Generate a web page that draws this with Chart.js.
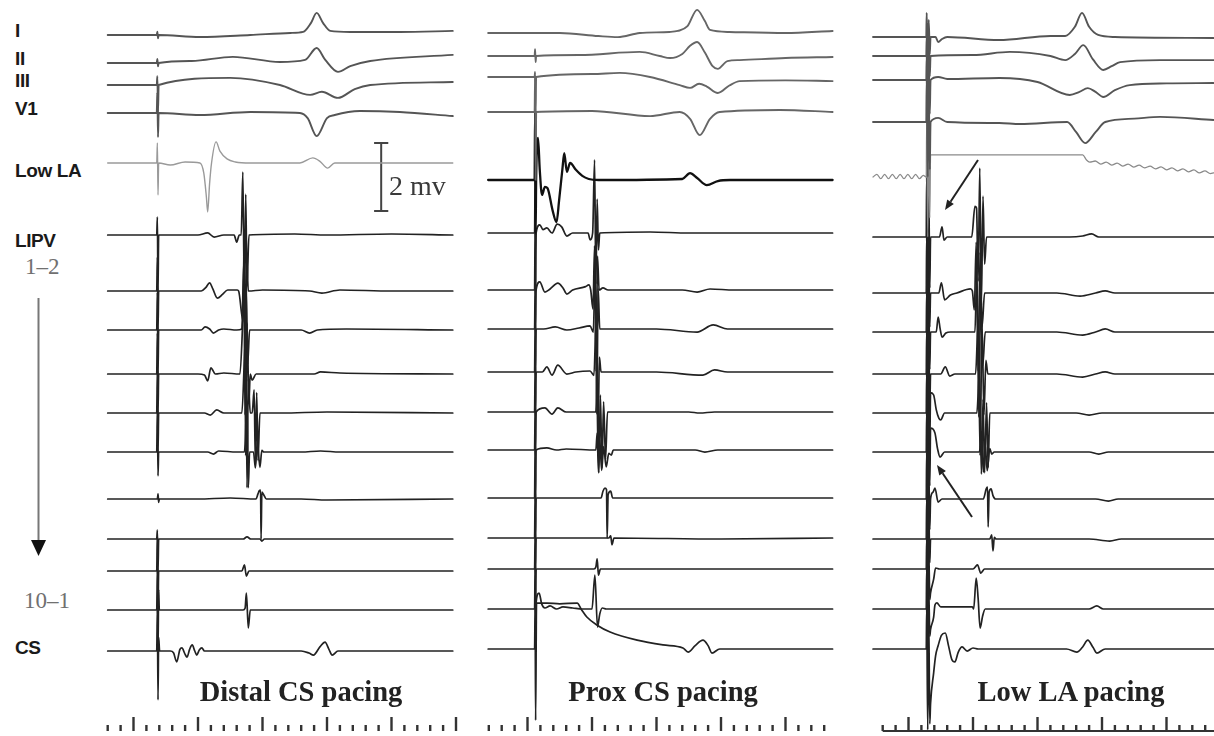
<!DOCTYPE html>
<html>
<head>
<meta charset="utf-8">
<script src="https://cdn.jsdelivr.net/npm/chart.js@4.4.1/dist/chart.umd.min.js"></script>
<style>
  html, body { margin: 0; padding: 0; background: #fff; }
  #fig { position: relative; width: 1214px; height: 736px; overflow: hidden; background: #fff; }
  canvas { position: absolute; top: 0; }
  .lab { position: absolute; transform: translateY(-50%); white-space: nowrap; line-height: 1; }
  .lead { font-family: "Liberation Sans", Arial, sans-serif; font-weight: bold; font-size: 19px; color: #1a1a1a; letter-spacing: -0.4px; }
  .num { font-family: "Liberation Serif", "Times New Roman", serif; font-size: 23px; color: #707070; }
  .title { position: absolute; transform: translate(-50%, -50%); white-space: nowrap; line-height: 1;
           font-family: "Liberation Serif", "Times New Roman", serif; font-weight: bold; font-size: 28.5px; color: #222; }
</style>
</head>
<body>
<div id="fig">
  <canvas id="c0" width="362" height="736" style="left:100px"></canvas>
  <canvas id="c1" width="370" height="736" style="left:470px"></canvas>
  <canvas id="c2" width="352" height="736" style="left:862px"></canvas>

  <div class="lab lead" style="left:15px;top:30px">I</div>
  <div class="lab lead" style="left:15px;top:58px">II</div>
  <div class="lab lead" style="left:15px;top:80px">III</div>
  <div class="lab lead" style="left:15px;top:108px">V1</div>
  <div class="lab lead" style="left:15px;top:170px">Low LA</div>
  <div class="lab lead" style="left:15px;top:240px">LIPV</div>
  <div class="lab num" style="left:25px;top:266px">1–2</div>
  <div class="lab num" style="left:24px;top:600px">10–1</div>
  <div class="lab lead" style="left:15px;top:647px">CS</div>
  <div class="lab num" style="left:389px;top:186px;font-size:28px;color:#3a3a3a">2 mv</div>

  <div class="title" style="left:301px;top:692px">Distal CS pacing</div>
  <div class="title" style="left:663px;top:692px">Prox CS pacing</div>
  <div class="title" style="left:1071px;top:692px">Low LA pacing</div>

  <svg width="1214" height="736" style="position:absolute;left:0;top:0">
    <line x1="38.5" y1="298" x2="38.5" y2="542" stroke="#777" stroke-width="2"/>
    <polygon points="31,540 46,540 38.5,556" fill="#111"/>
    <line x1="978" y1="160" x2="950.5" y2="201.7" stroke="#222" stroke-width="2"/>
    <polygon points="945,210 953.8,203.9 947.2,199.5" fill="#222"/>
    <line x1="972" y1="517" x2="942.6" y2="473.3" stroke="#222" stroke-width="2"/>
    <polygon points="937,465 945.9,471.1 939.3,475.5" fill="#222"/>
  </svg>
</div>

<script>
// ---- data: [time ms, deflection mV] per channel ----
const leadNames = ['I', 'II', 'III', 'V1', 'Low LA', 'LIPV 1-2', 'LIPV 2-3', 'LIPV 3-4', 'LIPV 4-5',
  'LIPV 5-6', 'LIPV 6-7', 'LIPV 7-8', 'LIPV 8-9', 'LIPV 9-10', 'LIPV 10-1', 'CS'];
const panelTitles = ['Distal CS pacing', 'Prox CS pacing', 'Low LA pacing'];
const scaleBarMv = 2;

// Distal CS pacing
const dcs_I = [[60,0],[136,0],[137,0.1],[138,-0.1],[139,0],[203,-0.06],[281,0],[343,0.06],[363,0.09],[375,0.35],[384,0.65],[394,0.35],[405,0.12],[436,0.09],[513,0.09],[595,0.12]];
const dcs_II = [[60,0],[136,0],[137,0.12],[138,-0.1],[139,0],[190,0.06],[254,0.18],[327,0.03],[366,0.09],[384,0.44],[397,0.1],[417,-0.26],[436,-0.09],[467,0.06],[595,0.24]];
const dcs_III = [[60,0],[136,0],[137,0.26],[138,-0.8],[139,0],[250,0.21],[327,0],[374,-0.29],[392,-0.2],[417,-0.38],[443,-0.12],[467,0],[595,0.09]];
const dcs_V1 = [[60,0],[136,0],[137,0.6],[138,-0.71],[139,0],[203,-0.06],[281,0.03],[358,0],[370,-0.15],[384,-0.68],[400,-0.15],[412,-0.06],[451,0.06],[513,0.03],[595,-0.09]];
const dcs_LowLA = [[60,0],[136,0],[137,0.59],[138,-0.94],[139,0],[157,-0.06],[180,0.03],[203,0],[209,-0.3],[213,-1.0],[215,-1.44],[218,-0.6],[221,0],[228,0.62],[234,0.35],[245,0.12],[258,0.03],[281,0],[358,0],[378,0.15],[389,0.05],[401,-0.15],[412,0],[595,0]];
const dcs_L1 = [[60,0],[136,0],[137,0.53],[138,-1.65],[139,0],[200,0],[215,0.06],[225,-0.06],[240,0],[256,0],[260,-0.21],[264,0],[267,0],[269.5,1.85],[272,-2.0],[274,1.2],[276,-1.5],[279,0],[350,0.03],[400,0],[500,0.03],[595,0]];
const dcs_L2 = [[60,0],[136,0],[137,1.0],[138,-1.15],[139,0],[205,0],[212,0.1],[218,0.24],[223,0.06],[230,-0.21],[238,-0.1],[246,0.03],[261,0.03],[263,0],[270,-0.9],[271.5,1.8],[273.5,-2.3],[275.5,1.0],[278,0],[300,0.03],[373,0],[392,-0.06],[420,0.03],[500,0],[595,0]];
const dcs_L3 = [[60,0],[136,0],[137,1.1],[138,-1.3],[139,0],[205,0],[211,0.09],[218,0.03],[224,-0.09],[232,0],[240,0.03],[260,0],[268,0.03],[271,2.0],[273,-2.5],[275,1.2],[277,-1.0],[280,0],[360,0],[373,-0.09],[385,0],[430,0.03],[595,0]];
const dcs_L4 = [[60,0],[136,0],[137,1.2],[138,-1.15],[139,0],[200,0],[210,-0.03],[215,-0.2],[220,0.18],[227,0],[240,0.03],[265,0],[272,2.3],[274,-2.4],[276,1.5],[279,-0.8],[281,0],[284,-0.18],[290,0],[380,0],[390,0.06],[420,0.03],[595,0]];
const dcs_L5 = [[60,0],[136,0],[137,1.2],[138,-1.15],[139,0],[210,0],[219,-0.06],[229,0.09],[240,0],[268,0],[274,2.3],[276,-2.2],[278,1.0],[281,0],[284,0],[287,0.68],[289,-1.5],[291,0.6],[293,-1.4],[296,0],[330,0],[400,0.03],[595,0]];
const dcs_L6 = [[60,0],[136,0],[137,1.2],[138,-0.7],[139,0],[215,0],[224,-0.06],[232,0.03],[260,0],[272,0],[276,1.5],[278,-1.05],[280,0],[286,0],[289,-0.47],[292,0.3],[296,-0.45],[299,0.05],[302,0],[360,0],[390,0.03],[420,0],[595,0]];
const dcs_L7 = [[60,0],[137,0],[138,0.15],[139,-0.1],[140,0],[200,0],[250,0.03],[290,0],[293,0.15],[295,0.24],[297,0.26],[297.8,-1.18],[299,0.2],[302,0.12],[306,0],[360,0],[400,-0.03],[595,0]];
const dcs_L8 = [[60,0],[136,0],[137,0.26],[138,-0.94],[139,0],[270,0],[276,0.06],[282,0],[296,0],[299,-0.06],[303,0],[400,0],[595,0]];
const dcs_L9 = [[60,0],[136,0],[137,1.0],[138,-1.1],[139,0],[200,0],[268,0],[272,0.18],[275,-0.15],[279,0],[400,0],[595,0]];
const dcs_L10 = [[60,0],[136,0],[137,1.15],[138,-1.2],[139,0.6],[140,0],[200,0],[270,0],[273,0.05],[275,0.5],[278,-0.53],[281,0],[400,0],[595,0]];
const dcs_CS = [[60,0],[136,0],[137,1.2],[138,-1.44],[139,0.4],[140.5,0],[157,0],[162,-0.05],[167,-0.32],[172,0.05],[175,0.09],[180,-0.1],[183,-0.18],[187,0.05],[191,0.18],[195,0],[198,-0.12],[202,0.03],[206,0.09],[210,0],[360,0],[372,-0.06],[379,-0.12],[389,0.12],[397,0.26],[403,0.05],[408,-0.12],[417,0],[595,0]];

// Prox CS pacing
const pcs_I = [[39,0],[150,0],[210,-0.09],[240,-0.12],[274,0],[320,0.03],[333,0.06],[348,0.2],[363,0.68],[375,0.35],[383,0.09],[413,0.03],[500,0],[573,0.06]];
const pcs_II = [[39,0],[111,0],[111.8,0.2],[112.6,-0.18],[113.4,0],[180,0.03],[274,0.12],[305,0],[321,-0.06],[340,0.06],[352,0.3],[363,0.41],[375,0.1],[387,-0.3],[395,-0.38],[410,-0.15],[429,-0.12],[500,-0.06],[573,-0.03]];
const pcs_III = [[39,0],[111,0],[111.8,0.15],[112.6,-1.03],[113.4,0],[200,0.09],[243,0.12],[290,0],[336,-0.24],[352,-0.32],[366,-0.2],[378,-0.28],[395,-0.47],[413,-0.25],[429,-0.12],[500,-0.1],[573,-0.12]];
const pcs_V1 = [[39,0],[111,0],[111.8,1.0],[112.6,-2.0],[113.4,0],[200,0.03],[290,-0.12],[336,0],[352,-0.2],[367,-0.68],[383,-0.2],[398,0],[491,0.06],[573,0]];
const pcs_LowLA = [[39,0],[111,0],[111.8,2.0],[112.6,-1.56],[113.4,0],[116.3,1.24],[119,0.3],[122.5,-0.44],[127,-0.2],[131,-0.24],[139,-0.9],[145,-1.24],[149,-0.6],[154,0.3],[157,0.79],[161,0.24],[166,0.5],[175,0.3],[185,0.12],[195,0.03],[210,0],[340,0.03],[352,0.2],[363,0.06],[378,-0.15],[395,-0.03],[414,0],[573,0]];
const pcs_L1 = [[39,0],[111,0],[111.8,1.56],[112.6,-1.68],[113.4,0],[119,0.24],[124,0.1],[130,0.15],[138,0],[146,0.26],[153,0.18],[161,-0.09],[170,0],[194,0],[197,-0.2],[201,0],[204,2.15],[206,-1.5],[208,1.0],[210,-0.5],[212,0],[290,0.03],[350,0],[573,0]];
const pcs_L2 = [[39,0],[111,0],[111.8,1.68],[112.6,-1.15],[113.4,0],[119,0.24],[127,-0.06],[135,0.03],[147,0.2],[155,0.06],[161,-0.12],[170,0],[190,0.1],[195,0.15],[198,0],[201.5,-0.56],[204,1.3],[206.5,-2.4],[208.5,1.0],[211,0],[217,0.06],[225,0],[340,0],[363,-0.06],[383,0.03],[420,0],[573,0]];
const pcs_L3 = [[39,0],[111,0],[111.8,1.15],[112.6,-1.26],[113.4,0],[125,0],[143,0.06],[161,-0.03],[180,0.03],[197,0.09],[202,-0.09],[205,1.8],[207.5,-2.5],[209.5,1.2],[212,0],[300,0],[363,-0.09],[388,0.12],[410,0],[573,0]];
const pcs_L4 = [[39,0],[111,0],[111.8,1.26],[112.6,-1.18],[113.4,0],[123,0],[130,0.15],[138,-0.09],[147,0.2],[161,-0.06],[175,0],[197,0.03],[203,-0.1],[207,2.0],[209,-2.4],[211.5,0.44],[214,0],[300,0],[372,-0.09],[390,0.06],[410,0],[573,0]];
const pcs_L5 = [[39,0],[111,0],[111.8,1.18],[112.6,-1.12],[113.4,0],[127,0.12],[138,-0.06],[147,0.12],[160,0],[206,0],[208.5,1.6],[210.5,-1.8],[213,0.5],[215.5,-1.65],[218,0.3],[221,-1.4],[224,0],[350,0],[367,-0.03],[390,0],[573,0]];
const pcs_L6 = [[39,0],[111,0],[111.8,1.12],[112.6,-1.4],[113.4,0],[130,0.06],[145,0],[160,0.03],[206,0],[208,0.5],[210,-0.65],[212,0.3],[215,-0.6],[218,0.1],[222,-0.5],[226,-0.1],[230,-0.15],[233,0],[360,0],[375,-0.06],[395,0],[573,0]];
const pcs_L7 = [[39,0],[111,0],[111.8,1.4],[112.6,-1.18],[113.4,0],[200,0],[214,0],[217,0.2],[220,0.29],[222.5,0.25],[223.5,-1.18],[225,0.1],[229,0.2],[232,0],[300,0],[573,0]];
const pcs_L8 = [[39,0],[111,0],[111.8,1.18],[112.6,-0.91],[113.4,0],[200,0],[226,0],[229,0.06],[231,-0.2],[234,0],[400,-0.03],[573,0]];
const pcs_L9 = [[39,0],[111,0],[111.8,0.91],[112.6,-1.18],[113.4,0],[180,0],[203,0],[206,0.06],[208,0.3],[210,-0.18],[213,0],[573,0]];
const pcs_L10 = [[39,0],[111,0],[111.8,1.18],[112.6,-1.18],[113.4,0.2],[118,0.47],[122,0.15],[127,0.03],[135,0.09],[145,0],[155,0.06],[170,0.03],[185,0],[200,0],[204.5,1.0],[208.5,-0.53],[212,-0.15],[216,0.03],[222,0],[573,0]];
const pcs_CS = [[39,0],[111,0],[111.8,1.18],[112.6,-2.1],[114,1.35],[130,1.35],[150,1.33],[177,1.35],[184,1.15],[192,0.94],[208,0.7],[228,0.5],[270,0.26],[310,0.12],[341,0.03],[349,-0.09],[360,0.1],[372,0.26],[380,0.1],[386,-0.12],[398,0],[573,0]];

// Low LA pacing
const lla_I = [[45,0],[127.5,0],[128.2,0.71],[129.8,-0.56],[131.4,0.5],[133,-0.5],[134.2,0],[142,0],[146,-0.15],[152,-0.06],[160,0],[240,-0.09],[320,0.03],[343,0.03],[358,0.3],[369,0.71],[380,0.3],[394,0.06],[420,0],[573,-0.03]];
const lla_II = [[45,0],[127.5,0],[128.2,0.56],[129.8,-0.7],[131.4,0.5],[133,-0.6],[134.2,0],[200,0.03],[257,0.12],[320,0],[343,-0.12],[358,0.06],[371,0.32],[386,-0.1],[402,-0.41],[415,-0.3],[428,-0.18],[490,-0.12],[573,-0.12]];
const lla_III = [[45,0],[127.5,0],[128.2,0.7],[129.8,-1.24],[131.4,0.6],[133,-1.0],[134.2,0],[146,0.09],[160,0.03],[241,0.06],[300,-0.06],[350,-0.44],[365,-0.35],[378,-0.24],[390,-0.35],[402,-0.5],[420,-0.3],[443,-0.15],[500,-0.1],[573,-0.09]];
const lla_V1 = [[45,0],[127.5,0],[128.2,1.24],[129.8,-1.62],[131.4,1.0],[133,-1.4],[134.2,0],[146,0.12],[160,0],[241,-0.03],[273,-0.06],[346,0],[360,-0.3],[374,-0.62],[390,-0.3],[405,0],[450,0.1],[490,0.15],[573,0.06]];
const lla_LowLA = [[45,0],[51,0.08],[57,-0.05],[63,0.08],[69,-0.05],[75,0.08],[81,-0.05],[87,0.08],[93,-0.05],[99,0.08],[105,-0.05],[111,0.08],[117,-0.05],[123,0.05],[127.5,0],[128.2,1.62],[129.8,-1.76],[131.4,1.2],[133,-1.2],[134.2,0.65],[250,0.65],[370,0.65],[376,0.5],[381,0.44],[389.5,0.47],[398,0.38],[406.5,0.44],[415,0.35],[423.5,0.41],[432,0.32],[440.5,0.38],[449,0.29],[457.5,0.35],[466,0.27],[474.5,0.32],[483,0.24],[491.5,0.3],[500,0.21],[508.5,0.27],[517,0.18],[525.5,0.24],[534,0.15],[542.5,0.21],[551,0.12],[559.5,0.18],[568,0.1],[573,0.12]];
const lla_L1 = [[45,0],[127.5,0],[128.2,1.76],[129.8,-1.65],[131.4,1.5],[133,-1.5],[134.2,0],[148,0],[152,0.3],[155,-0.09],[160,0],[198,0],[203,0.9],[205.5,0.85],[208,-1.3],[210.5,2.03],[213,-2.0],[215.5,1.2],[218,-0.8],[221,0],[350,0],[370,0.03],[384,0.09],[395,0],[573,0]];
const lla_L2 = [[45,0],[127.5,0],[128.2,1.65],[129.8,-1.15],[131.4,1.3],[133,-1.0],[134.2,0],[147,0],[151,0.3],[156,-0.2],[165,-0.06],[175,0],[196,0.12],[199,0.06],[202,-0.5],[205,1.5],[208,-2.3],[211,1.2],[214,-1.0],[218,0],[330,0],[366,-0.09],[390,0],[405,0.06],[420,0],[573,0]];
const lla_L3 = [[45,0],[127.5,0],[128.2,1.15],[129.8,-1.24],[131.4,1.1],[133,-1.1],[134.2,0],[143,0],[146,0.44],[149,0.1],[152,-0.15],[158,-0.03],[165,0],[203,0],[206,1.8],[209,-2.5],[212,1.2],[215,-1.0],[219,0],[330,0],[370,-0.09],[390,0],[405,0.09],[420,0],[573,0]];
const lla_L4 = [[45,0],[127.5,0],[128.2,1.24],[129.8,-1.15],[131.4,1.1],[133,-1.0],[134.2,0],[150,0],[157,0.21],[164,-0.06],[172,0],[204,0],[208,1.5],[211,-2.4],[214,1.5],[217,-1.2],[220,0.4],[223,0],[330,0],[370,-0.09],[390,0],[405,0.06],[420,0],[573,0]];
const lla_L5 = [[45,0],[127.5,0],[128.2,1.15],[129.8,-1.15],[131.4,0.9],[133,-0.9],[134.2,0.6],[139,0.53],[143,0.1],[147,-0.15],[150,-0.2],[156,0],[206,0],[210,1.2],[213,-1.8],[215.5,0.4],[218,-1.76],[221,0.3],[223.5,-1.6],[226,0],[360,0],[380,-0.06],[400,0],[573,0]];
const lla_L6 = [[45,0],[127.5,0],[128.2,1.15],[129.8,-1.38],[131.4,0.9],[133,-1.0],[134.2,0.7],[141,0.56],[145,0.1],[149,-0.15],[156,0],[210,0],[213,0.6],[216,-0.59],[219,0.2],[222,-0.55],[226,0.1],[229,-0.06],[233,0],[380,0],[395,-0.06],[410,0],[573,0]];
const lla_L7 = [[45,0],[127.5,0],[128.2,1.38],[129.8,-1.18],[131.4,1.0],[133,-0.9],[134.2,0],[138,0.2],[141,0.32],[146,-0.09],[152,0],[216,0],[220.5,0.3],[222.5,0.35],[223.5,-0.82],[225,0.2],[228,0.3],[231,0.1],[235,0],[390,0],[410,-0.06],[425,0],[573,0]];
const lla_L8 = [[45,0],[127.5,0],[128.2,1.18],[129.8,-0.88],[131.4,0.9],[133,-0.7],[134.2,0],[226,0],[229,0.12],[231,-0.35],[233,0.05],[236,0],[380,0],[412,-0.06],[430,0],[573,0]];
const lla_L9 = [[45,0],[127.5,0],[128.2,0.88],[129.8,-1.18],[131.4,0.6],[133,-0.9],[134.2,-0.7],[139,-0.3],[142,0.03],[148,0],[200,0],[207,0.12],[212,-0.12],[218,0],[573,0]];
const lla_L10 = [[45,0],[127.5,0],[128.2,1.18],[129.8,-1.18],[131.4,0.6],[133,-0.8],[134.2,-0.6],[139,-0.24],[141,0.12],[144,0.18],[150,0.06],[199,0.06],[201,0],[205,0.91],[208,0.3],[211,-0.56],[215,-0.2],[219,0],[380,0],[392,0.09],[402,0],[573,0]];
const lla_CS = [[45,0],[127.5,0],[128.2,1.18],[129.8,-2.38],[131.4,1.0],[133,-2.2],[134.2,-1.6],[139,-0.7],[142,-0.2],[146,0.1],[151,0.4],[157,0.47],[162,0.1],[167,-0.3],[172,-0.38],[177,-0.1],[183,0.06],[191,-0.06],[200,0.03],[208,0],[345,0],[361,-0.09],[370,0.06],[378,0.26],[386,0.05],[392,-0.12],[405,0],[573,0]];

// timing marks (ms): first, last
const distalTicks = [60, 600];
const proxTicks = [40, 560];
const lowlaTicks = [60, 580];

const distalTraces = [dcs_I, dcs_II, dcs_III, dcs_V1, dcs_LowLA, dcs_L1, dcs_L2, dcs_L3, dcs_L4, dcs_L5, dcs_L6, dcs_L7, dcs_L8, dcs_L9, dcs_L10, dcs_CS];
const proxTraces = [pcs_I, pcs_II, pcs_III, pcs_V1, pcs_LowLA, pcs_L1, pcs_L2, pcs_L3, pcs_L4, pcs_L5, pcs_L6, pcs_L7, pcs_L8, pcs_L9, pcs_L10, pcs_CS];
const lowlaTraces = [lla_I, lla_II, lla_III, lla_V1, lla_LowLA, lla_L1, lla_L2, lla_L3, lla_L4, lla_L5, lla_L6, lla_L7, lla_L8, lla_L9, lla_L10, lla_CS];

// ---- layout ----
const PX_PER_MS = 0.645;
const PX_PER_MV = 34;
const H = 736;

const panels = [
  { id: 'c0', left: 100, width: 362, origin: 69, traces: distalTraces, ticks: distalTicks, baseLine: false,
    rows: [35, 63, 85, 113, 163, 235, 291, 330, 374, 413, 452, 499, 539, 571, 610, 651],
    surface: '#555', lowLA: { color: '#9a9a9a', width: 1.4 }, scaleBar: { t: 484, topRow: 143 } },
  { id: 'c1', left: 470, width: 370, origin: 463, traces: proxTraces, ticks: proxTicks, baseLine: false,
    rows: [33, 56, 77, 112, 180, 233, 290, 329, 372, 412, 450, 498, 538, 569, 609, 649],
    surface: '#666', lowLA: { color: '#111', width: 2.3 } },
  { id: 'c2', left: 862, width: 352, origin: 844, traces: lowlaTraces, ticks: lowlaTicks, baseLine: true,
    rows: [37, 56, 80, 122, 177, 237, 293, 332, 374, 413, 452, 499, 539, 569, 609, 649],
    surface: '#555', lowLA: { color: '#8a8a8a', width: 1.3 } }
];

const tickPlugin = {
  id: 'timeTicks',
  afterDatasetsDraw(chart, args, opts) {
    const ctx = chart.ctx, xs = chart.scales.x, ys = chart.scales.y;
    const yb = ys.getPixelForValue(-731 / PX_PER_MV);
    ctx.save();
    ctx.strokeStyle = '#333';
    ctx.lineWidth = 2.4;
    for (let t = opts.from; t <= opts.to; t += 20) {
      const x = xs.getPixelForValue(t);
      const len = t % 100 === 0 ? 14 : 6;
      ctx.beginPath(); ctx.moveTo(x, yb); ctx.lineTo(x, yb - len); ctx.stroke();
    }
    if (opts.baseLine) {
      ctx.lineWidth = 2;
      ctx.beginPath();
      ctx.moveTo(xs.getPixelForValue(opts.from), yb);
      ctx.lineTo(chart.chartArea.right, yb);
      ctx.stroke();
    }
    ctx.restore();
  }
};

function styleFor(p, i) {
  if (i < 4) return { color: p.surface, width: 1.9 };
  if (i === 4) return p.lowLA;
  return { color: '#222', width: 1.7 };
}

panels.forEach(p => {
  const datasets = p.traces.map((tr, i) => {
    const st = styleFor(p, i);
    const base = -p.rows[i] / PX_PER_MV;
    return {
      label: leadNames[i],
      data: tr.map(([t, v]) => ({ x: t, y: base + v })),
      showLine: true,
      borderColor: st.color,
      borderWidth: st.width,
      pointRadius: 0,
      cubicInterpolationMode: 'monotone',
      borderJoinStyle: 'round',
      borderCapStyle: 'round'
    };
  });

  if (p.scaleBar) {
    const top = -p.scaleBar.topRow / PX_PER_MV;
    const bot = top - scaleBarMv;
    const t = p.scaleBar.t;
    const bar = { showLine: true, borderColor: '#444', borderWidth: 2, pointRadius: 0, tension: 0 };
    datasets.push({ ...bar, data: [{ x: t, y: top }, { x: t, y: bot }] });
    datasets.push({ ...bar, data: [{ x: t - 11, y: top }, { x: t + 11, y: top }] });
    datasets.push({ ...bar, data: [{ x: t - 11, y: bot }, { x: t + 11, y: bot }] });
  }

  new Chart(document.getElementById(p.id), {
    type: 'scatter',
    data: { datasets },
    plugins: [tickPlugin],
    options: {
      responsive: false,
      animation: false,
      devicePixelRatio: 1,
      layout: { padding: 0 },
      plugins: {
        legend: { display: false },
        tooltip: { enabled: false },
        timeTicks: { from: p.ticks[0], to: p.ticks[1], baseLine: p.baseLine }
      },
      scales: {
        x: { type: 'linear', display: false,
             min: (p.left - p.origin) / PX_PER_MS,
             max: (p.left + p.width - p.origin) / PX_PER_MS },
        y: { type: 'linear', display: false, min: -H / PX_PER_MV, max: 0 }
      }
    }
  });
});
</script>
</body>
</html>
